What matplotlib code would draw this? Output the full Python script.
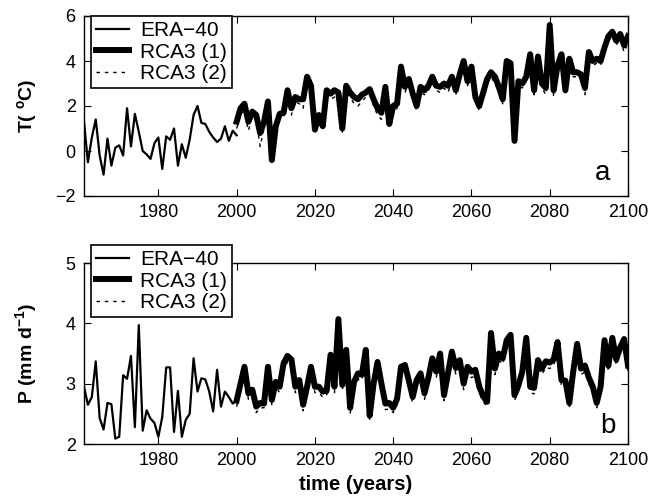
import numpy as np
import matplotlib
matplotlib.use("Agg")
import matplotlib.pyplot as plt

plt.rcParams['font.family'] = ['Liberation Sans', 'DejaVu Sans']
plt.rcParams['mathtext.fontset'] = 'custom'
plt.rcParams['mathtext.rm'] = 'Liberation Sans'
plt.rcParams['mathtext.bf'] = 'Liberation Sans:bold'

era_years = list(range(1961, 2001))
rca_years = list(range(2000, 2101))

era_T = [1.3, -0.5, 0.6, 1.4, -0.2, -1.05, 0.55, -0.65, 0.15, 0.25,
         -0.2, 1.9, 0.2, 1.65, 0.85, 0.0, -0.15, -0.35, 0.35, 0.6,
         -0.8, 0.65, 0.5, 1.0, -0.65, 0.3, -0.3, 0.5, 1.6, 2.0,
         1.25, 1.2, 0.85, 0.6, 0.4, 0.55, 1.1, 0.45, 0.9, 0.7]

rca1_T = [1.3, 1.9, 2.1, 1.3, 1.75, 1.6, 0.8, 1.3, 2.2, -0.4,
          1.1, 1.65, 1.7, 2.7, 1.9, 2.4, 2.3, 2.3, 3.3, 2.9,
          0.95, 1.6, 1.1, 2.7, 2.55, 2.7, 2.6, 1.0, 2.9, 2.6,
          2.4, 2.3, 2.5, 2.6, 2.75, 2.3, 1.9, 1.7, 2.85, 1.2,
          2.0, 2.1, 3.75, 2.85, 3.2, 2.55, 2.0, 2.85, 2.7, 2.9,
          3.3, 2.9, 2.85, 3.0, 2.9, 3.3, 2.7, 3.4, 4.0, 3.1,
          3.75, 2.4, 2.0, 2.6, 3.2, 3.5, 3.3, 2.85, 2.3, 4.0,
          3.9, 0.45, 3.1, 3.0, 3.3, 4.3, 2.7, 4.2, 3.0, 2.8,
          5.6, 2.7, 3.8, 4.3, 2.7, 4.1, 3.5, 3.5, 3.4, 2.8,
          4.4, 4.0, 4.1, 4.0, 4.6, 5.1, 5.3, 4.9, 5.2, 4.7, 5.1]

rca2_T = [1.0, 1.6, 1.8, 0.9, 1.5, 1.4, 0.2, 1.0, 2.0, -0.5,
          0.9, 1.4, 1.5, 2.5, 1.6, 2.2, 2.1, 1.9, 3.1, 2.6,
          0.8, 1.4, 0.9, 2.5, 2.3, 2.4, 2.3, 0.8, 2.6, 2.4,
          2.1, 2.0, 2.2, 2.4, 2.5, 2.0, 1.6, 1.4, 2.6, 1.1,
          1.8, 1.9, 3.5, 2.6, 3.0, 2.3, 1.8, 2.6, 2.5, 2.7,
          3.0, 2.7, 2.6, 2.8, 2.6, 3.1, 2.5, 3.2, 3.8, 2.9,
          3.5, 2.2, 1.8, 2.4, 3.0, 3.3, 3.0, 2.6, 2.1, 3.8,
          3.7, 0.3, 2.9, 2.8, 3.1, 4.1, 2.5, 4.0, 2.8, 2.5,
          5.4, 2.4, 3.6, 4.1, 2.5, 3.9, 3.3, 3.3, 3.2, 2.5,
          4.2, 3.8, 3.9, 3.8, 4.4, 4.9, 5.1, 4.7, 5.0, 4.4, 4.8]

era_P = [2.95, 2.65, 2.78, 3.37, 2.43, 2.24, 2.68, 2.66, 2.09, 2.12,
         3.14, 3.08, 3.46, 2.28, 3.97, 2.22, 2.56, 2.42, 2.35, 2.12,
         2.45, 3.27, 3.27, 2.2, 2.88, 2.12, 2.4, 2.5, 3.42, 2.87,
         3.09, 3.07, 2.87, 2.54, 3.23, 2.62, 2.87, 2.78, 2.67, 2.72]

rca1_P = [2.72, 3.0, 3.28, 2.84, 2.9, 2.62, 2.68, 2.67, 3.28, 2.73,
          3.03, 2.95, 3.34, 3.46, 3.4, 2.95, 3.06, 2.65, 2.95, 3.28,
          2.95, 2.95, 2.87, 2.88, 3.48, 2.95, 4.07, 2.98, 3.56, 2.6,
          3.03, 3.17, 3.15, 3.56, 2.47, 3.0, 3.36, 3.0, 2.67, 2.68,
          2.6, 2.75, 3.28, 3.31, 3.05, 2.78, 3.06, 3.17, 2.84, 3.1,
          3.42, 3.2, 3.5, 2.81, 3.17, 3.53, 3.26, 3.39, 3.0, 3.28,
          3.2, 3.23, 2.95, 2.79, 2.7, 3.84, 3.25, 3.5, 3.42, 3.72,
          3.81, 2.81, 2.97, 3.2, 3.76, 2.95, 2.93, 3.39, 3.25, 3.37,
          3.35, 3.4, 3.69, 3.06, 3.05, 2.68, 3.2, 3.66, 3.25, 3.3,
          3.1, 2.95, 2.68, 2.95, 3.72, 3.3, 3.76, 3.4, 3.6, 3.74, 3.3]

rca2_P = [2.62, 2.9, 3.18, 2.74, 2.8, 2.52, 2.6, 2.6, 3.18, 2.65,
          2.95, 2.85, 3.24, 3.36, 3.3, 2.85, 2.96, 2.55, 2.85, 3.18,
          2.85, 2.85, 2.78, 2.8, 3.38, 2.85, 3.95, 2.88, 3.46, 2.5,
          2.93, 3.07, 3.05, 3.46, 2.38, 2.9, 3.26, 2.9, 2.57, 2.58,
          2.52, 2.65, 3.18, 3.21, 2.95, 2.68, 2.96, 3.07, 2.74, 3.0,
          3.32, 3.1, 3.4, 2.72, 3.07, 3.43, 3.16, 3.29, 2.9, 3.18,
          3.1, 3.13, 2.85, 2.7, 2.62, 3.74, 3.15, 3.4, 3.32, 3.62,
          3.71, 2.72, 2.87, 3.1, 3.66, 2.85, 2.83, 3.29, 3.15, 3.27,
          3.25, 3.3, 3.59, 2.96, 2.95, 2.58, 3.1, 3.56, 3.15, 3.2,
          3.0, 2.85, 2.6, 2.85, 3.62, 3.2, 3.66, 3.3, 3.5, 3.64, 3.2]

x_ticks = [1980, 2000, 2020, 2040, 2060, 2080, 2100]
T_ticks = [-2, 0, 2, 4, 6]
P_ticks = [2, 3, 4, 5]
labels = ['ERA\u221240', 'RCA3 (1)', 'RCA3 (2)']

W, H = 670, 498
fig = plt.figure(figsize=(W / 100, H / 100), dpi=100)
ax1 = fig.add_axes([84 / W, 1 - 196 / H, 544 / W, 180 / H])
ax2 = fig.add_axes([84 / W, 1 - 444 / H, 544 / W, 181 / H])


def draw(ax, era, r1, r2, yl, yticks, panel, ppos, legtop):
    ax.plot(era_years, era, color='black', lw=1.6, label=labels[0])
    ax.plot(rca_years, r1, color='black', lw=4.3, label=labels[1],
            solid_joinstyle='round', zorder=3)
    ax.plot(rca_years, r2, color='black', lw=1.0, ls=(0, (2.5, 3.5)),
            label=labels[2], zorder=2)
    ax.set_xlim(1961, 2100)
    ax.set_ylim(*yl)
    ax.set_xticks(x_ticks)
    ax.set_yticks(yticks)
    ax.tick_params(direction='in', top=True, right=True, labelsize=13,
                   length=5, width=0.8, pad=6)
    for s in ax.spines.values():
        s.set_linewidth(1.0)
    leg = ax.legend(loc='upper left', bbox_to_anchor=(0.013, legtop),
                    borderaxespad=0, fancybox=False, framealpha=1,
                    edgecolor='black', fontsize=15, handlelength=1.55,
                    handletextpad=0.55, labelspacing=0.12, borderpad=0.25)
    leg.get_frame().set_linewidth(1.2)
    leg.set_zorder(10)
    ax.text(ppos[0], ppos[1], panel, transform=ax.transAxes, ha='right',
            va='baseline', fontsize=20)


draw(ax1, era_T, rca1_T, rca2_T, (-2, 6), T_ticks, 'a', (0.968, 0.09), 1.0)
draw(ax2, era_P, rca1_P, rca2_P, (2, 5), P_ticks, 'b', (0.977, 0.06),
     1.0 + 18 / 181)

ax1.set_ylabel('T( $^{\\mathbf{o}}$C)', fontsize=14, fontweight='bold')
ax2.set_ylabel('P (mm d$^{\\mathbf{-1}}$)', fontsize=14, fontweight='bold')
ax2.set_xlabel('time (years)', fontsize=14.5, fontweight='bold', labelpad=4)
ax1.yaxis.set_label_coords(-0.08, 0.5)
ax2.yaxis.set_label_coords(-0.08, 0.5)

fig.savefig('out.png', dpi=100)
